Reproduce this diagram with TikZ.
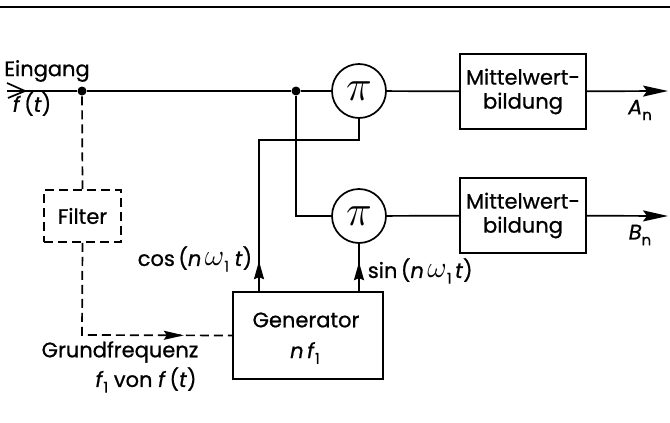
\documentclass[tikz,border=0pt]{standalone}
\usepackage{fontspec}
\setmainfont{Poppins}[FakeBold=0.8]
\usetikzlibrary{arrows.meta,decorations.markings}
\newcommand{\lowsub}[1]{\raisebox{-0.5ex}{\fontsize{15}{15}\selectfont #1}}
\newcommand{\bigpi}{\scalebox{2.1}{$\pi$}}
\newcommand{\omg}{\scalebox{1.45}{$\omega$}}
\begin{document}
\begin{tikzpicture}[x=1pt,y=-1pt,
  line width=1.7pt,
  every node/.style={font=\fontsize{21}{24}\selectfont},
  blockbox/.style={draw,rectangle,inner sep=0pt,align=center},
  mulnode/.style={draw,circle,minimum size=54pt,inner sep=0pt},
  dotnode/.style={circle,fill,inner sep=0pt,minimum size=9pt},
  txt/.style={inner sep=0pt,anchor=center},
  dpat/.style={dash pattern=on 9pt off 5pt},
  bigtip/.style={-{Stealth[length=25pt,width=11pt,inset=4pt]}},
  uptip/.style={postaction=decorate,decoration={markings,mark=at position #1 with {\arrow{Stealth[length=18pt,width=10pt,inset=2pt]}}}},
  dashtip/.style={postaction=decorate,decoration={markings,mark=at position #1 with {\arrow[solid]{Stealth[length=20pt,width=9pt,inset=3pt]}}}}
]
\useasboundingbox (0,0) rectangle (670,423);
% top rule
\draw[line width=2pt] (0,7) -- (670,7);

% nodes
\coordinate (in) at (7,91);
\node[dotnode] (d1) at (82,91) {};
\node[dotnode] (d2) at (296,91) {};
\node[mulnode] (ma) at (359,91) {\bigpi};
\node[mulnode] (mb) at (359,216) {\bigpi};
\node[blockbox,minimum width=126pt,minimum height=75pt] (ba) at (523,91.5) {Mittelwert-\\bildung};
\node[blockbox,minimum width=126pt,minimum height=75pt] (bb) at (523,215.5) {Mittelwert-\\bildung};
\node[blockbox,dpat,minimum width=77pt,minimum height=52pt] (fi) at (82.5,216) {Filter};
\node[blockbox,minimum width=150pt,minimum height=87pt] (ge) at (308,335.5) {};
\coordinate (oa) at (668,91);
\coordinate (ob) at (668,216);
\coordinate (cosx) at (259,140);
\coordinate (sinb) at (296,216);
\coordinate (fb) at (82,335);

% generator text
\node[txt] (gt1) at (306,320) {Generator};
\node[txt] (gt2) at (305,353) {\textit{n\,f}\lowsub{1}};

% input
\draw (in) -- (d1) -- (d2) -- (ma);
\draw (7,83) -- (25,91) -- (8,98);
\node[txt] (ein) at (47,71) {Eingang};
\node[txt] (ft) at (32,104) {\textit{f}\,(\textit{t})};

% outputs
\draw (ma) -- (ba);
\draw[bigtip] (ba) -- (oa);
\draw (mb) -- (bb);
\draw[bigtip] (bb) -- (ob);
\node[txt] (an) at (640,110) {\textit{A}\lowsub{n}};
\node[txt] (bn) at (640,235) {\textit{B}\lowsub{n}};

% dot2 to lower multiplier
\draw (d2) -- (sinb) -- (mb);

% cos path
\draw[uptip=30pt] (ge.north -| cosx) -- (cosx) -- (cosx -| ma.south) -- (ma.south);
\node[txt,anchor=east] (cl) at (253,259) {cos\,(\textit{n}\,\omg\lowsub{1}\ \textit{t})};

% sin path
\draw[uptip=29pt] (ge.north -| mb.south) -- (mb.south);
\node[txt,anchor=west] (sl) at (367,271) {sin\,(\textit{n}\,\omg\lowsub{1}\,\textit{t})};

% dashed filter path
\draw[dpat] (d1) -- (fi.north);
\draw[dpat,dashtip=194pt] (fi.south) -- (fb) -- (ge.west);
\node[txt] (gf1) at (120,352) {Grundfrequenz};
\node[txt] (gf2) at (146,380) {\textit{f}\lowsub{1} von \textit{f}\,(\textit{t})};
\end{tikzpicture}
\end{document}
